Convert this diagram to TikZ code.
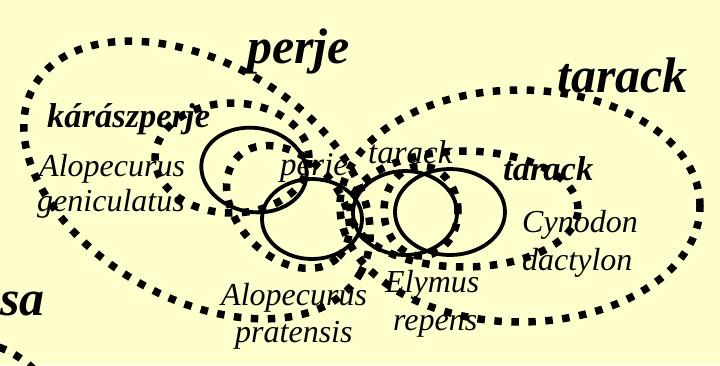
\documentclass[tikz,border=0pt]{standalone}
\usepackage{fontspec}
\setmainfont{Liberation Serif}
\definecolor{bgyellow}{HTML}{FFFFCC}
\tikzset{
  dotring/.style={line width=7.5pt, dash pattern=on 7.5pt off 9.5pt},
  solidring/.style={line width=3.8pt},
  biglabel/.style={anchor=base west, inner sep=0pt, font=\fontsize{50}{55}\selectfont\bfseries\itshape},
  midlabel/.style={anchor=base west, inner sep=0pt, font=\fontsize{33}{38}\selectfont\itshape},
  boldsmall/.style={anchor=base west, inner sep=0pt, font=\fontsize{34.5}{38}\selectfont\bfseries\itshape},
  species/.style={anchor=base west, inner sep=0pt, font=\fontsize{32}{36}\selectfont\itshape}
}
\begin{document}
\begin{tikzpicture}[x=1pt,y=-1pt]
\useasboundingbox (0,0) rectangle (720,365);
\fill[bgyellow] (0,0) rectangle (720,365);
\clip (0,0) rectangle (720,365);
% texts
\node[biglabel] (perjebig) at (247,63) {perje};
\node[biglabel] (tarackbig) at (557,92) {tarack};
\node[biglabel] (sa) at (0,315) {sa};
\node[boldsmall] (karasz) at (47,127) {kárászperje};
\node[species] (alogen1) at (39,176) {Alopecurus};
\node[species] (alogen2) at (37,211) {geniculatus};
\node[midlabel] (perjemid) at (280,175) {perje};
\node[midlabel] (tarackmid) at (368,163) {tarack};
\node[boldsmall] (tarackright) at (503,180) {tarack};
\node[species] (cyn1) at (522,232) {Cynodon};
\node[species] (cyn2) at (522,270) {dactylon};
\node[species] (alopra1) at (221,305) {Alopecurus};
\node[species] (alopra2) at (235,342) {pratensis};
\node[species] (ely1) at (385,292) {Elymus};
\node[species] (ely2) at (393,330) {repens};
% dotted rings
\draw[dotring, rotate around={-30:(197,180)}] (197,180) ellipse [x radius=188pt, y radius=118pt];
\draw[dotring] (520,206) ellipse [x radius=180pt, y radius=116pt];
\draw[dotring] (232,158) ellipse [x radius=77pt, y radius=55pt];
\draw[dotring, rotate around={-45:(288,207)}] (288,207) ellipse [x radius=71pt, y radius=50pt];
\draw[dotring] (464,209) ellipse [x radius=114pt, y radius=58pt];
\draw[dotring] (421,211) ellipse [x radius=37pt, y radius=45pt];
\draw[dotring] (-40,430) ellipse [x radius=100pt, y radius=90pt];
% solid rings
\draw[solidring, rotate around={-10:(254,170)}] (254,170) ellipse [x radius=53pt, y radius=42pt];
\draw[solidring] (312,219) ellipse [x radius=50pt, y radius=40pt];
\draw[solidring] (405,213) ellipse [x radius=52pt, y radius=42pt];
\draw[solidring] (450,212) ellipse [x radius=55pt, y radius=43pt];
\end{tikzpicture}
\end{document}
